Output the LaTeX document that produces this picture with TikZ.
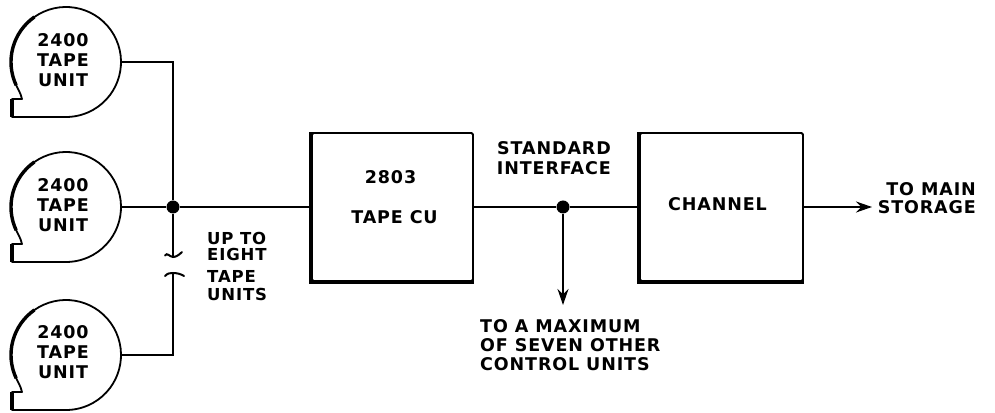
\documentclass[tikz,border=0pt]{standalone}
\usepackage{fontspec}
\setmainfont{DejaVu Sans}
\newfontfamily\lblfont[LetterSpace=5]{DejaVu Sans}
\usetikzlibrary{arrows.meta,calc}
\newcommand{\tapeoutline}[1]{%
  \draw[line width=1.8pt, line join=round]
    ($(#1)+(210:55)$) arc[start angle=210, end angle=-90, radius=55]
    -- ++(-54,0) -- ++(0,18) -- ++(10,0)
    .. controls +(-1,3) and +(2,-3) .. ($(#1)+(210:55)$);
  \draw[line width=3.4pt] ($(#1)+(205:55)$) arc[start angle=205, end angle=125, radius=55];
  \draw[line width=3.4pt] ($(#1)+(-54,-55)$) -- ++(0,18);
}
\begin{document}
\begin{tikzpicture}[x=1pt,y=1pt,
  lbl/.style={font=\lblfont\bfseries\fontsize{17.5}{20}\selectfont, inner sep=0pt},
  tape/.style={circle, minimum size=110pt, inner sep=0pt},
  box/.style={draw, line width=1.8pt, rounded corners=1.5pt, minimum height=148pt, inner sep=0pt},
  wire/.style={line width=1.6pt},
  brk/.style={line width=2pt, line cap=round},
  dot/.style={circle, fill, inner sep=0pt, minimum size=13pt},
  arr/.style={wire, -{Stealth[length=16pt,width=11pt]}},
]
\useasboundingbox (0,0) rectangle (995,412);

% tape units
\node[tape] (t1) at (66,350) {};
\node[tape] (t2) at (66,205) {};
\node[tape] (t3) at (66,57) {};
\tapeoutline{t1}
\tapeoutline{t2}
\tapeoutline{t3}
\node[lbl, align=center] (t1l) at ($(t1)+(-3,2)$) {2400\\TAPE\\UNIT};
\node[lbl, align=center] (t2l) at ($(t2)+(-3,2)$) {2400\\TAPE\\UNIT};
\node[lbl, align=center] (t3l) at ($(t3)+(-3,3)$) {2400\\TAPE\\UNIT};

% boxes
\node[box, minimum width=161pt] (cu) at (392.5,205) {};
\node[box, minimum width=163pt] (ch) at (721.5,205) {};
\draw[line width=3.4pt] (cu.north west) -- (cu.south west) -- (cu.south east);
\draw[line width=3.4pt] (ch.north west) -- (ch.south west) -- (ch.south east);
\node[lbl] (cun) at ($(cu.center)+(-2,30)$) {2803};
\node[lbl] (cut) at ($(cu.center)+(2,-10)$) {TAPE CU};
\node[lbl] (cht) at ($(ch.center)+(-4,3)$) {CHANNEL};

% junctions
\node[dot] (j1) at (173,205) {};
\node[dot] (j2) at (563,205) {};
\coordinate (b1) at (173,155);
\coordinate (b2) at (173,139);
\coordinate (o1) at (563,107);
\coordinate (o2) at (872,205);

% connectors
\draw[wire] (t1.east) -| (j1);
\draw[wire] (t2.east) -- (j1) -- (cu.west);
\draw[wire] (j1) -- (b1);
\draw[brk] ($(b1)+(-8,1.5)$) .. controls ($(b1)+(-6,5)$) and ($(b1)+(-3,0)$) .. (b1)
  .. controls ($(b1)+(3,0)$) and ($(b1)+(6,2)$) .. ($(b1)+(9,5)$);
\draw[brk] ($(b2)+(-8,-3)$) .. controls ($(b2)+(-5,0)$) and ($(b2)+(-3,0)$) .. (b2)
  .. controls ($(b2)+(4,0)$) and ($(b2)+(8,-1)$) .. ($(b2)+(11,-3)$);
\draw[wire] (b2) |- (t3.east);
\draw[wire] (cu.east) -- (j2) -- (ch.west);
\draw[arr] (j2) -- (o1);
\draw[arr] (ch.east) -- (o2);

% labels
\node[lbl, align=left, anchor=west, font=\lblfont\bfseries\fontsize{16.5}{16}\selectfont] (upa) at (207,166) {UP TO\\EIGHT};
\node[lbl, align=left, anchor=west, font=\lblfont\bfseries\fontsize{16.5}{18}\selectfont] (upb) at (207,126) {TAPE\\UNITS};
\node[lbl, align=right, anchor=east] (si) at (611,254) {STANDARD\\INTERFACE};
\node[lbl, align=right, anchor=east, font=\lblfont\bfseries\fontsize{17.5}{18.5}\selectfont] (tm) at (976,214) {TO MAIN\\STORAGE};
\node[lbl, align=left, anchor=west, font=\lblfont\bfseries\fontsize{17.5}{19}\selectfont] (mx) at (480,67) {TO A MAXIMUM\\OF SEVEN OTHER\\CONTROL UNITS};
\end{tikzpicture}
\end{document}
